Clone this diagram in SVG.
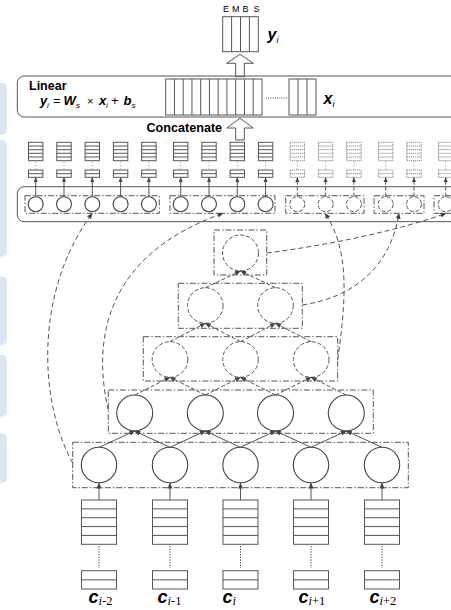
<svg xmlns="http://www.w3.org/2000/svg" width="451" height="610" viewBox="0 0 451 610">
<defs>
<marker id="ah" markerWidth="6" markerHeight="6" refX="5.5" refY="3" orient="auto" markerUnits="userSpaceOnUse"><path d="M0,0.5 L6,3 L0,5.5 z" fill="#444"/></marker>
<marker id="ahs" markerWidth="5" markerHeight="5" refX="4.5" refY="2.5" orient="auto" markerUnits="userSpaceOnUse"><path d="M0,0.5 L5,2.5 L0,4.5 z" fill="#444"/></marker>
<g id="bigblk"><rect x="-7.2" y="0" width="14.4" height="18.4"/><path d="M-7.2,3.7 H7.2 M-7.2,7.4 H7.2 M-7.2,11 H7.2 M-7.2,14.7 H7.2"/></g>
<g id="smblk"><rect x="-7.2" y="0" width="14.4" height="7.3"/><path d="M-7.2,3.65 H7.2"/></g>
<g id="inblk"><rect x="-17.5" y="0" width="35" height="44.3"/><path d="M-17.5,8.86 H17.5 M-17.5,17.72 H17.5 M-17.5,26.58 H17.5 M-17.5,35.44 H17.5"/><path d="M0,46 V68" stroke-dasharray="1.2 1.5" stroke="#333"/><rect x="-17.5" y="70.7" width="35" height="18.3"/><path d="M-17.5,79.85 H17.5"/></g>
</defs>
<style>
.blue{fill:#dce6f2;stroke:none}
.sol{fill:none;stroke:#555;stroke-width:1}
.blk{fill:#fff;stroke:#555;stroke-width:1}
.dblk{fill:#fff;stroke:#888;stroke-width:1;stroke-dasharray:1.2 0.8}
.dd{fill:none;stroke:#555;stroke-width:1;stroke-dasharray:6 2 1.5 2}
.dc{fill:#fff;stroke:#555;stroke-width:1;stroke-dasharray:4 2}
.sc{fill:#fff;stroke:#444;stroke-width:1.1}
.ln{stroke:#555;stroke-width:1;fill:none}
.dln{stroke:#555;stroke-width:1;fill:none;stroke-dasharray:4 2}
.curve{stroke:#555;stroke-width:1;fill:none;stroke-dasharray:5 3}
.light{stroke:#bbb;stroke-width:1;stroke-dasharray:2 1.5}
.t{font-family:"Liberation Sans",Arial,sans-serif;fill:#000}
.b{font-weight:bold}
.bi{font-weight:bold;font-style:italic}
.sub{font-style:italic}
.ser{font-family:"Liberation Serif","Times New Roman",serif;fill:#000}
.hol{fill:#fff;stroke:#555;stroke-width:1}
</style>

<g id="side">
<rect class="blue" x="-6" y="83" width="13" height="52" rx="5"/>
<rect class="blue" x="-6" y="140" width="13" height="116.7" rx="5"/>
<rect class="blue" x="-6" y="276.7" width="13" height="68.3" rx="5"/>
<rect class="blue" x="-6" y="355" width="13" height="61.7" rx="5"/>
<rect class="blue" x="-6" y="433.3" width="13" height="50" rx="5"/>
</g>

<g id="output">
<rect class="blk" x="222.7" y="16.7" width="35.6" height="35"/>
<path class="sol" d="M231.6,16.7 V51.7 M240.5,16.7 V51.7 M249.4,16.7 V51.7"/>
<text class="t" font-size="9" x="223" y="12">E</text>
<text class="t" font-size="9" x="232" y="12">M</text>
<text class="t" font-size="9" x="242.5" y="12">B</text>
<text class="t" font-size="9" x="253.5" y="12">S</text>
<text class="t bi" font-size="16" x="267.5" y="40">y<tspan class="sub" font-weight="normal" font-size="9" dy="3">i</tspan></text>
</g>

<g id="arrowUp1"><polygon class="hol" points="235.7,76.7 235.7,63.3 226.7,63.3 240,54.3 253.3,63.3 244.3,63.3 244.3,76.7"/></g>

<g id="linear">
<path class="sol" d="M460,76 H24.3 a7,7 0 0 0 -7,7 V110 a7,7 0 0 0 7,7 H460"/>
<text class="t b" font-size="12.5" x="29" y="90">Linear</text>
<text class="t" font-size="13" y="105"><tspan class="bi" x="40">y</tspan><tspan class="sub" font-size="8" x="47" dy="2.5">i</tspan><tspan x="53" dy="-2.5">=</tspan><tspan class="bi" x="63.5">W</tspan><tspan class="sub" font-size="8" x="76" dy="2.5">s</tspan><tspan x="87" dy="-2.5" font-size="11">×</tspan><tspan class="bi" x="99">x</tspan><tspan class="sub" font-size="8" x="106" dy="2.5">i</tspan><tspan x="111" dy="-2.5">+</tspan><tspan class="bi" x="123.5">b</tspan><tspan class="sub" font-size="8" x="131.5" dy="2.5">s</tspan></text>
<rect class="blk" x="165.7" y="79" width="96.3" height="36"/>
<path class="sol" d="M174.45,79 V115 M183.2,79 V115 M191.95,79 V115 M200.7,79 V115 M209.45,79 V115 M218.2,79 V115 M226.95,79 V115 M235.7,79 V115 M244.45,79 V115 M253.2,79 V115"/>
<path d="M266,98 H287" stroke="#444" stroke-width="1" stroke-dasharray="1 1.2"/>
<rect class="blk" x="289" y="79" width="27" height="36"/>
<path class="sol" d="M298,79 V115 M307,79 V115"/>
<text class="t bi" font-size="16" x="323.5" y="104">x<tspan class="sub" font-weight="normal" font-size="9" dy="3">i</tspan></text>
</g>

<g id="concat">
<text class="t b" font-size="12.6" x="146.5" y="131.5">Concatenate</text>
<polygon class="hol" points="235.7,140 235.7,128 226.7,128 240,118.3 253.3,128 244.3,128 244.3,140"/>
</g>

<g id="toprow">
<path class="sol" d="M460,186.7 H24.3 a7,7 0 0 0 -7,7 V214.7 a7,7 0 0 0 7,7 H460"/>
<rect class="dd" x="25" y="195.7" width="134.3" height="17.6"/>
<rect class="dd" x="170" y="195.7" width="105" height="17.6"/>
<rect class="dd" x="285.7" y="195.7" width="78.3" height="17.6"/>
<rect class="dd" x="374" y="195.7" width="50" height="17.6"/>
<rect class="dd" x="434" y="195.7" width="40" height="17.6"/>
</g>

<g id="topcols">
<g class="blk"><use href="#bigblk" x="35.7" y="142.3"/><use href="#bigblk" x="64" y="142.3"/><use href="#bigblk" x="92.3" y="142.3"/><use href="#bigblk" x="120.6" y="142.3"/><use href="#bigblk" x="148.9" y="142.3"/><use href="#bigblk" x="180.7" y="142.3"/><use href="#bigblk" x="209" y="142.3"/><use href="#bigblk" x="237.3" y="142.3"/><use href="#bigblk" x="265.6" y="142.3"/>
<use href="#smblk" x="35.7" y="170"/><use href="#smblk" x="64" y="170"/><use href="#smblk" x="92.3" y="170"/><use href="#smblk" x="120.6" y="170"/><use href="#smblk" x="148.9" y="170"/><use href="#smblk" x="180.7" y="170"/><use href="#smblk" x="209" y="170"/><use href="#smblk" x="237.3" y="170"/><use href="#smblk" x="265.6" y="170"/></g>
<g class="dblk"><use href="#bigblk" x="297.3" y="142.3"/><use href="#bigblk" x="325.6" y="142.3"/><use href="#bigblk" x="353.9" y="142.3"/><use href="#bigblk" x="385.7" y="142.3"/><use href="#bigblk" x="414" y="142.3"/><use href="#bigblk" x="445.7" y="142.3"/>
<use href="#smblk" x="297.3" y="170"/><use href="#smblk" x="325.6" y="170"/><use href="#smblk" x="353.9" y="170"/><use href="#smblk" x="385.7" y="170"/><use href="#smblk" x="414" y="170"/><use href="#smblk" x="445.7" y="170"/></g>
<path class="light" d="M35.7,161 V170 M64,161 V170 M92.3,161 V170 M120.6,161 V170 M148.9,161 V170 M180.7,161 V170 M209,161 V170 M237.3,161 V170 M265.6,161 V170 M297.3,161 V170 M325.6,161 V170 M353.9,161 V170 M385.7,161 V170 M414,161 V170 M445.7,161 V170"/>
<g class="sc"><circle cx="35.7" cy="204.2" r="7.5"/><circle cx="64" cy="204.2" r="7.5"/><circle cx="92.3" cy="204.2" r="7.5"/><circle cx="120.6" cy="204.2" r="7.5"/><circle cx="148.9" cy="204.2" r="7.5"/><circle cx="180.7" cy="204.2" r="7.5"/><circle cx="209" cy="204.2" r="7.5"/><circle cx="237.3" cy="204.2" r="7.5"/><circle cx="265.6" cy="204.2" r="7.5"/></g>
<g class="dc"><circle cx="297.3" cy="204.2" r="7.5"/><circle cx="325.6" cy="204.2" r="7.5"/><circle cx="353.9" cy="204.2" r="7.5"/><circle cx="385.7" cy="204.2" r="7.5"/><circle cx="414" cy="204.2" r="7.5"/><circle cx="445.7" cy="204.2" r="7.5"/></g>
</g>

<g id="tree-boxes">
<rect class="dd" x="72.7" y="442.3" width="335.6" height="45.4"/>
<rect class="dd" x="108.3" y="390" width="265" height="43.3"/>
<rect class="dd" x="143.3" y="336.7" width="194.4" height="44.3"/>
<rect class="dd" x="178.3" y="283.3" width="124" height="45"/>
<rect class="dd" x="214" y="230" width="52.7" height="45"/>
</g>

<g id="level1" class="sc"><circle cx="99" cy="465" r="17.7"/><circle cx="170" cy="465" r="17.7"/><circle cx="240.5" cy="465" r="17.7"/><circle cx="311" cy="465" r="17.7"/><circle cx="382" cy="465" r="17.7"/></g>
<g id="level2" class="sc"><circle cx="134.7" cy="413" r="18"/><circle cx="205.3" cy="413" r="18"/><circle cx="275.5" cy="413" r="18"/><circle cx="346.3" cy="413" r="18"/></g>
<g id="level3" class="dc"><circle cx="170" cy="359.5" r="17.8"/><circle cx="240.5" cy="359.5" r="17.8"/><circle cx="311.2" cy="359.5" r="17.8"/></g>
<g id="level4" class="dc"><circle cx="205.3" cy="305.5" r="17.8"/><circle cx="275.5" cy="305.5" r="17.8"/></g>
<g id="level5" class="dc"><circle cx="240.5" cy="253" r="18"/></g>

<g id="inputs" class="blk">
<use href="#inblk" x="99" y="500"/><use href="#inblk" x="170" y="500"/><use href="#inblk" x="240.5" y="500"/><use href="#inblk" x="311" y="500"/><use href="#inblk" x="382" y="500"/>
</g>

<g id="labels">
<text class="t bi" font-size="18" x="88.5" y="603">c<tspan class="ser" font-weight="normal" font-style="normal" font-size="12.5" dy="2"><tspan font-style="italic">i</tspan>-2</tspan></text>
<text class="t bi" font-size="18" x="157.5" y="603">c<tspan class="ser" font-weight="normal" font-style="normal" font-size="12.5" dy="2"><tspan font-style="italic">i</tspan>-1</tspan></text>
<text class="t bi" font-size="18" x="222.5" y="603">c<tspan class="ser" font-weight="normal" font-style="italic" font-size="12.5" dy="2">i</tspan></text>
<text class="t bi" font-size="18" x="298.5" y="603">c<tspan class="ser" font-weight="normal" font-style="normal" font-size="12.5" dy="2"><tspan font-style="italic">i</tspan>+1</tspan></text>
<text class="t bi" font-size="18" x="369.5" y="603">c<tspan class="ser" font-weight="normal" font-style="normal" font-size="12.5" dy="2"><tspan font-style="italic">i</tspan>+2</tspan></text>
</g>

<g id="connectors">
<g class="ln" marker-end="url(#ahs)">
<path d="M35.7,196.7 V177.6"/><path d="M64,196.7 V177.6"/><path d="M92.3,196.7 V177.6"/><path d="M120.6,196.7 V177.6"/><path d="M148.9,196.7 V177.6"/><path d="M180.7,196.7 V177.6"/><path d="M209,196.7 V177.6"/><path d="M237.3,196.7 V177.6"/><path d="M265.6,196.7 V177.6"/>
</g>
<g class="dln" marker-end="url(#ahs)">
<path d="M297.3,196.7 V177.6"/><path d="M325.6,196.7 V177.6"/><path d="M353.9,196.7 V177.6"/><path d="M385.7,196.7 V177.6"/><path d="M414,196.7 V177.6"/><path d="M445.7,196.7 V177.6"/>
</g>
<g class="ln" marker-end="url(#ah)">
<path d="M99,500 V483"/><path d="M170,500 V483"/><path d="M240.5,500 V483"/><path d="M311,500 V483"/><path d="M382,500 V483"/>
<path d="M99,447.3 L134.7,431"/><path d="M170,447.3 L134.7,431"/><path d="M170,447.3 L205.3,431"/><path d="M240.5,447.3 L205.3,431"/><path d="M240.5,447.3 L275.5,431"/><path d="M311,447.3 L275.5,431"/><path d="M311,447.3 L346.3,431"/><path d="M382,447.3 L346.3,431"/>
</g>
<g class="dln" marker-end="url(#ah)">
<path d="M134.7,395 L170,377.3"/><path d="M205.3,395 L170,377.3"/><path d="M205.3,395 L240.5,377.3"/><path d="M275.5,395 L240.5,377.3"/><path d="M275.5,395 L311.2,377.3"/><path d="M346.3,395 L311.2,377.3"/>
<path d="M170,341.7 L205.3,323.3"/><path d="M240.5,341.7 L205.3,323.3"/><path d="M240.5,341.7 L275.5,323.3"/><path d="M311.2,341.7 L275.5,323.3"/>
<path d="M205.3,287.7 L240.5,271"/><path d="M275.5,287.7 L240.5,271"/>
</g>
<g class="curve" marker-end="url(#ah)">
<path d="M72.7,463 C38,400 35,290 92.3,213.3"/>
<path d="M108.3,410 C92,340 105,255 223,213.3"/>
<path d="M337.7,360 C346,300 350,250 325,213.3"/>
<path d="M302.3,305 C350,298 390,270 399,213.3"/>
<path d="M266.7,253 C330,245 400,230 446,213.3"/>
</g>
</g>
</svg>
